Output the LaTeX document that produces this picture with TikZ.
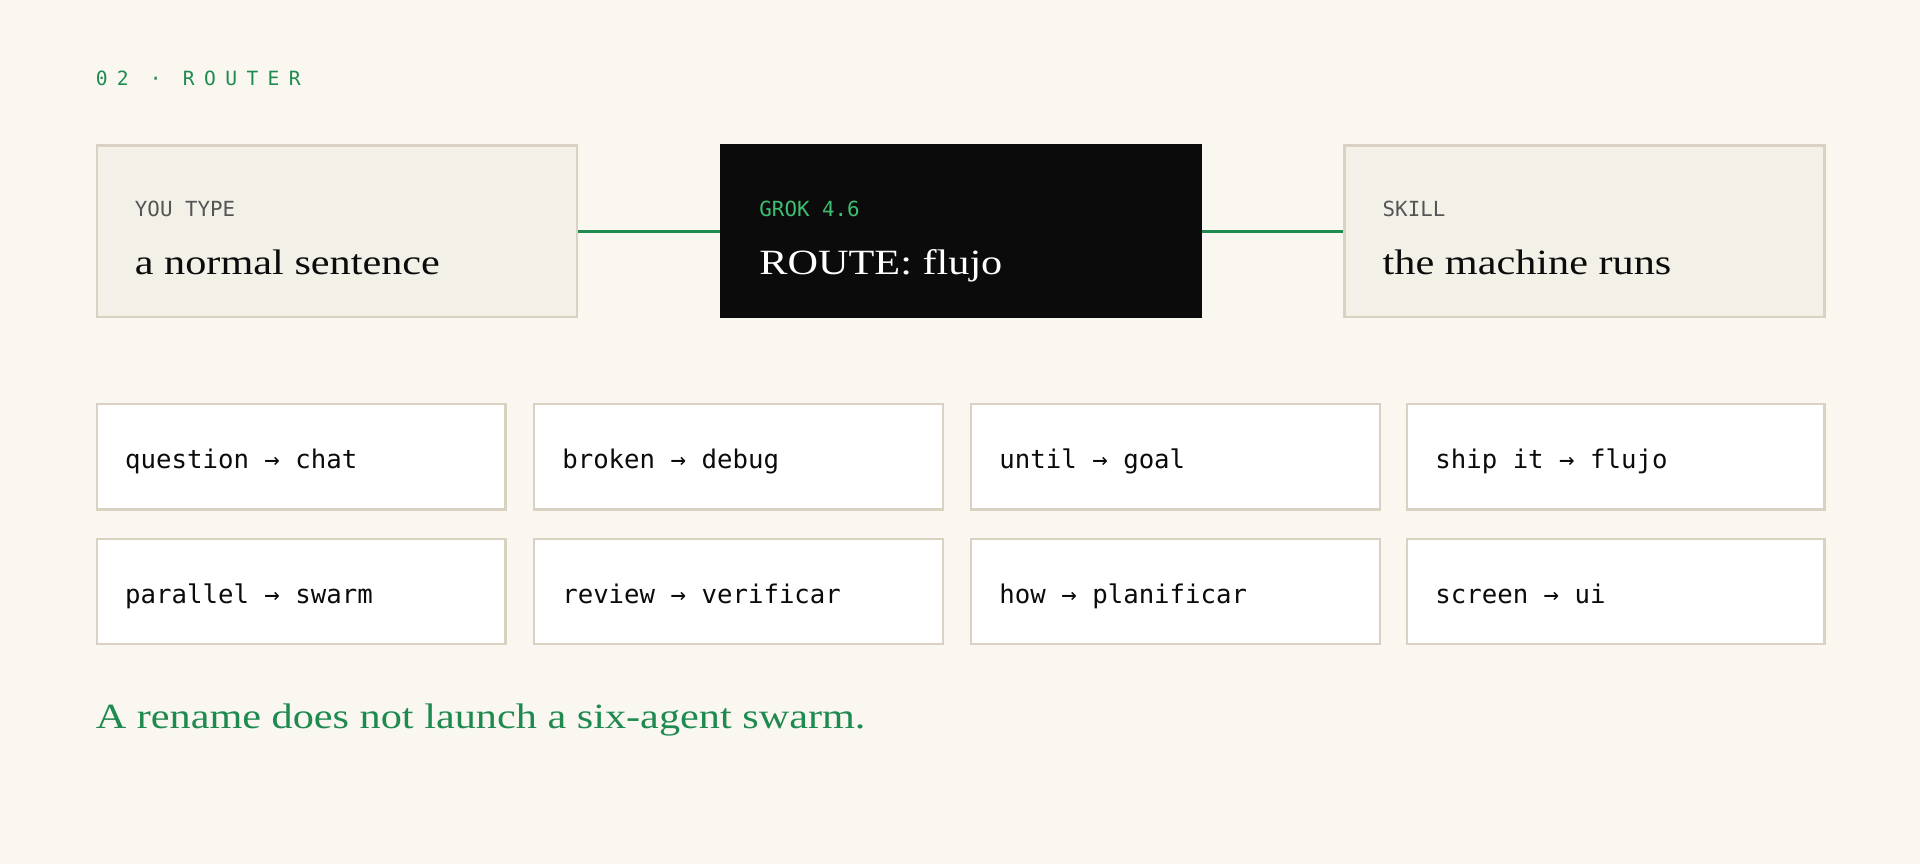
\documentclass[tikz,border=0pt]{standalone}
\usepackage{fontspec}
\setmainfont{Liberation Serif}[FakeStretch=1.19]
\newfontfamily\codefont{DejaVu Sans Mono}
\newfontfamily\spacedfont[LetterSpace=48]{DejaVu Sans Mono}
\usetikzlibrary{positioning,calc}
\definecolor{paper}{HTML}{FAF7F0}
\definecolor{boxfill}{HTML}{F3F0E8}
\definecolor{boxline}{HTML}{D9D2C2}
\definecolor{routegreen}{HTML}{1E8A50}
\definecolor{grokgreen}{HTML}{3DBE70}
\definecolor{labelgray}{HTML}{555555}
\definecolor{ink}{HTML}{0B0B0B}
\tikzset{
  stage/.style={draw=boxline,line width=2pt,fill=boxfill,minimum width=392pt,minimum height=140pt,anchor=north west,inner sep=0pt},
  tag/.style={anchor=base west,inner sep=0pt,font=\codefont\fontsize{17}{20}\selectfont,text=labelgray},
  say/.style={anchor=base west,inner sep=0pt,font=\fontsize{29}{34}\selectfont,text=ink},
  rule/.style={draw=boxline,line width=2pt,fill=white,minimum width=334pt,minimum height=86pt,anchor=north west,inner sep=0pt},
  ruletext/.style={anchor=base west,inner sep=0pt,font=\codefont\fontsize{21}{24}\selectfont,text=ink},
  link/.style={routegreen,line width=3pt}
}
\begin{document}
\begin{tikzpicture}[x=1pt,y=-1pt]
\fill[paper] (0,0) rectangle (1568,706);
\useasboundingbox (0,0) rectangle (1568,706);

% heading
\node[anchor=base west,inner sep=0pt,font=\spacedfont\fontsize{16}{20}\selectfont,text=routegreen] (title) at (78,70) {02 · ROUTER};

% top row
\node[stage] (you) at (78,118) {};
\node[stage,fill=ink,draw=ink] (grok) at (588,118) {};
\node[stage] (skill) at (1097,118) {};
\draw[link] (you.east) -- (grok.west);
\draw[link] (grok.east) -- (skill.west);

\node[tag] (youtag) at ($(you.north west)+(32,59)$) {YOU TYPE};
\node[say] (yousay) at ($(you.north west)+(32,106)$) {a normal sentence};
\node[tag,text=grokgreen] (groktag) at ($(grok.north west)+(32,59)$) {GROK 4.6};
\node[say,text=white] (groksay) at ($(grok.north west)+(32,106)$) {ROUTE: flujo};
\node[tag] (skilltag) at ($(skill.north west)+(32,59)$) {SKILL};
\node[say] (skillsay) at ($(skill.north west)+(32,106)$) {the machine runs};

% routing table
\foreach \txt [count=\i from 0] in {question → chat,broken → debug,until → goal,ship it → flujo,
    parallel → swarm,review → verificar,how → planificar,screen → ui} {
  \pgfmathtruncatemacro\col{mod(\i,4)}
  \pgfmathtruncatemacro\row{int(\i/4)}
  \ifnum\col=3
    \node[rule,minimum width=341pt] (r\i) at (1148,329+\row*110) {};
  \else
    \node[rule] (r\i) at (78+\col*357,329+\row*110) {};
  \fi
  \node[ruletext] (t\i) at ($(r\i.north west)+(24,54)$) {\txt};
}

% footer
\node[anchor=base west,inner sep=0pt,font=\fontsize{29}{34}\selectfont,text=routegreen] (note) at (78,595) {A rename does not launch a six-agent swarm.};
\end{tikzpicture}
\end{document}
